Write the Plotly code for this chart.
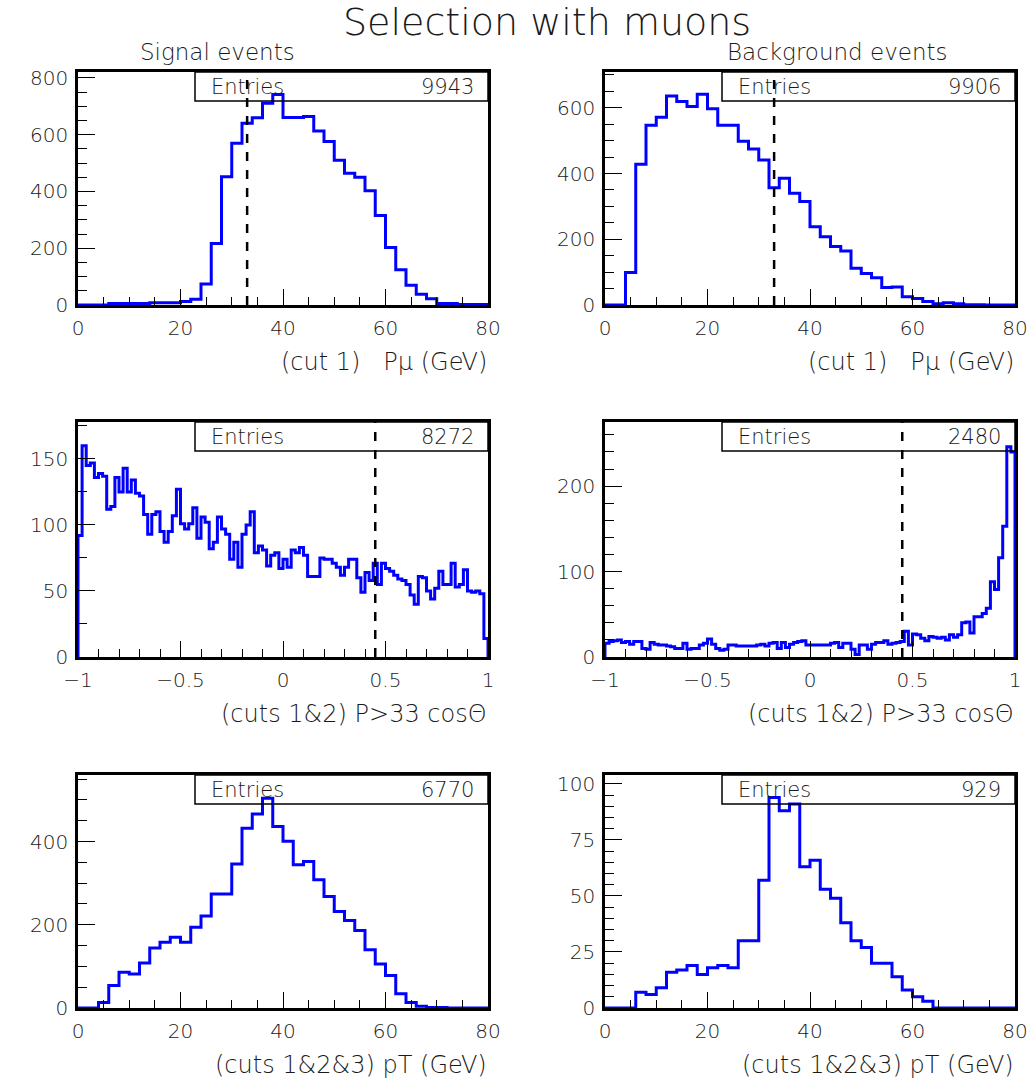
import numpy as np
import plotly.graph_objects as go

W, H = 1032, 1078

# ---------------- data ----------------
sig_p = [0, 0, 0, 5, 5, 5, 5, 8, 8, 8, 12, 20, 74, 217, 452, 570, 640, 660, 711, 742,
         661, 661, 664, 613, 576, 510, 464, 450, 403, 315, 203, 124, 70, 38, 22, 5, 5, 2, 2, 2]
bkg_p = [0, 0, 99, 428, 547, 571, 636, 619, 604, 641, 597, 547, 547, 498, 475, 441, 357, 386, 340, 315,
         238, 208, 178, 164, 112, 96, 83, 53, 55, 25, 20, 11, 4, 7, 4, 1, 1, 0, 0, 0]
sig_cos = [92, 160, 145, 147, 136, 139, 137, 112, 114, 136, 125, 143, 125, 134, 124, 122, 108, 93, 108, 110,
           95, 87, 95, 107, 127, 101, 97, 101, 113, 90, 106, 102, 82, 87, 106, 97, 93, 74, 87, 68,
           93, 100, 110, 79, 84, 81, 69, 77, 79, 67, 74, 68, 81, 79, 83, 77, 61, 61, 61, 75,
           74, 74, 71, 68, 62, 68, 74, 74, 60, 49, 64, 58, 71, 55, 71, 67, 65, 62, 59, 58,
           55, 47, 40, 61, 60, 50, 44, 52, 65, 55, 55, 71, 53, 55, 66, 50, 49, 50, 48, 14]
bkg_cos = [16, 18, 19, 20, 17, 18, 15, 18, 18, 10, 9, 17, 15, 14, 14, 13, 12, 10, 10, 16,
           9, 10, 10, 14, 16, 21, 15, 10, 8, 9, 14, 14, 13, 13, 13, 13, 13, 14, 15, 13,
           16, 17, 10, 17, 11, 15, 17, 18, 19, 14, 14, 14, 14, 14, 14, 16, 17, 11, 16, 16,
           9, 3, 14, 14, 9, 15, 17, 17, 19, 15, 16, 17, 18, 30, 14, 27, 26, 22, 19, 24,
           23, 22, 23, 20, 26, 23, 26, 40, 41, 28, 47, 47, 51, 57, 88, 79, 116, 153, 246, 240]
sig_pt = [0, 0, 13, 54, 86, 82, 108, 144, 158, 170, 158, 194, 221, 274, 274, 346, 432, 466, 504, 436,
          401, 344, 352, 308, 268, 232, 210, 186, 140, 106, 78, 34, 13, 4, 1, 1, 0, 0, 0, 0]
bkg_pt = [0, 0, 0, 7, 6, 9, 16, 17, 19, 15, 18, 19, 18, 30, 30, 57, 94, 88, 91, 63,
          66, 53, 49, 38, 30, 27, 20, 20, 14, 8, 5, 3, 0, 0, 0, 0, 0, 0, 0, 0]

entries = ["9943", "9906", "8272", "2480", "6770", "929"]
x_titles = ["(cut 1)   P\u03bc (GeV)", "(cut 1)   P\u03bc (GeV)",
            "(cuts 1&2) P>33 cos\u0398", "(cuts 1&2) P>33 cos\u0398",
            "(cuts 1&2&3) pT (GeV)", "(cuts 1&2&3) pT (GeV)"]
cut_pos = [33, 33, 0.45, 0.45, None, None]

hists = [sig_p, bkg_p, sig_cos, bkg_cos, sig_pt, bkg_pt]
xranges = [(0, 80), (0, 80), (-1, 1), (-1, 1), (0, 80), (0, 80)]
ymax = [821, 709, 178, 275, 560, 104]
ydt = [(200, 50), (200, 50), (50, 25), (100, 20), (200, 50), (25, 5)]

# ---------------- layout geometry (pixels) ----------------
cols = [(78, 488), (605, 1015)]
rows = [(72, 305), (422, 657), (775, 1008)]

FONT = "DejaVu Sans"
TXT = "#1a1a1a"
WT = 200
fig = go.Figure()
shapes, annos = [], []
layout = {}

for i in range(6):
    r, c = divmod(i, 2)
    x0p, x1p = cols[c]
    y0p, y1p = rows[r]
    n = i + 1
    xa = "xaxis" if n == 1 else f"xaxis{n}"
    ya = "yaxis" if n == 1 else f"yaxis{n}"
    xr = "x" if n == 1 else f"x{n}"
    yr = "y" if n == 1 else f"y{n}"

    vals = hists[i]
    lo, hi = xranges[i]
    edges = np.linspace(lo, hi, len(vals) + 1)
    xs = np.concatenate([[edges[0]], edges])
    ys = np.concatenate([[0], vals, [0]])
    fig.add_trace(go.Scatter(x=xs, y=ys, mode="lines", line=dict(color="#0000ff", width=3, shape="hv"),
                             xaxis=xr, yaxis=yr, showlegend=False, hoverinfo="skip"))

    if lo == 0:
        xtv = [0, 20, 40, 60, 80]
        xmd = 5
    else:
        xtv = [-1, -0.5, 0, 0.5, 1]
        xmd = 0.1
    layout[xa] = dict(domain=[x0p / W, x1p / W], range=[lo, hi], anchor=yr, automargin=False,
                      showgrid=False, zeroline=False, showline=True, linecolor="black", linewidth=2.5,
                      mirror=True, ticks="inside", ticklen=16, tickwidth=1.3, tickcolor="black",
                      tickvals=xtv, ticklabelstandoff=3,
                      tickfont=dict(family=FONT, size=20, color=TXT, weight=WT),
                      minor=dict(ticks="inside", ticklen=8, tickwidth=1.3, tickcolor="black", dtick=xmd,
                                 tick0=lo, showgrid=False))
    mj, mn = ydt[i]
    layout[ya] = dict(domain=[1 - y1p / H, 1 - y0p / H], range=[0, ymax[i]], anchor=xr, automargin=False,
                      showgrid=False, zeroline=False, showline=True, linecolor="black", linewidth=2.5,
                      mirror=True, ticks="inside", ticklen=17, tickwidth=1.3, tickcolor="black",
                      dtick=mj, tick0=0, ticklabelstandoff=3,
                      tickfont=dict(family=FONT, size=20, color=TXT, weight=WT),
                      minor=dict(ticks="inside", ticklen=9, tickwidth=1.3, tickcolor="black", dtick=mn,
                                 tick0=0, showgrid=False))

    # stats box
    bx0 = x0p + 117
    shapes.append(dict(type="rect", xref="paper", yref="paper", x0=bx0 / W, x1=x1p / W,
                       y0=1 - (y0p + 29) / H, y1=1 - y0p / H, line=dict(color="black", width=1.5),
                       fillcolor="rgba(0,0,0,0)"))
    annos.append(dict(text="Entries", xref="paper", yref="paper", x=(x0p + 131) / W, y=1 - (y0p + 15) / H,
                      xanchor="left", yanchor="middle", showarrow=False,
                      font=dict(family=FONT, size=21, color=TXT, weight=WT)))
    annos.append(dict(text=entries[i], xref="paper", yref="paper", x=(x1p - 12) / W, y=1 - (y0p + 15) / H,
                      xanchor="right", yanchor="middle", showarrow=False,
                      font=dict(family=FONT, size=21, color=TXT, weight=WT)))
    # x title
    annos.append(dict(text=x_titles[i], xref="paper", yref="paper", x=(x1p + 1) / W, y=1 - (y1p + 57) / H,
                      xanchor="right", yanchor="middle", showarrow=False,
                      font=dict(family=FONT, size=24, color=TXT, weight=WT)))
    # cut line
    if cut_pos[i] is not None:
        shapes.append(dict(type="line", xref=xr, yref=f"{yr} domain", x0=cut_pos[i], x1=cut_pos[i],
                           y0=0, y1=1, line=dict(color="black", width=2.5, dash="dash")))

annos.append(dict(text="Selection with muons", xref="paper", yref="paper", x=547 / W, y=1 - 22 / H,
                  xanchor="center", yanchor="middle", showarrow=False,
                  font=dict(family=FONT, size=38, color=TXT, weight=WT)))
annos.append(dict(text="Signal events", xref="paper", yref="paper", x=217 / W, y=1 - 52 / H,
                  xanchor="center", yanchor="middle", showarrow=False,
                  font=dict(family=FONT, size=23, color=TXT, weight=WT)))
annos.append(dict(text="Background events", xref="paper", yref="paper", x=837 / W, y=1 - 52 / H,
                  xanchor="center", yanchor="middle", showarrow=False,
                  font=dict(family=FONT, size=23, color=TXT, weight=WT)))

fig.update_layout(width=W, height=H, margin=dict(l=0, r=0, t=0, b=0), paper_bgcolor="white",
                  plot_bgcolor="white", shapes=shapes, annotations=annos, **layout)
fig.write_html("out.html")
